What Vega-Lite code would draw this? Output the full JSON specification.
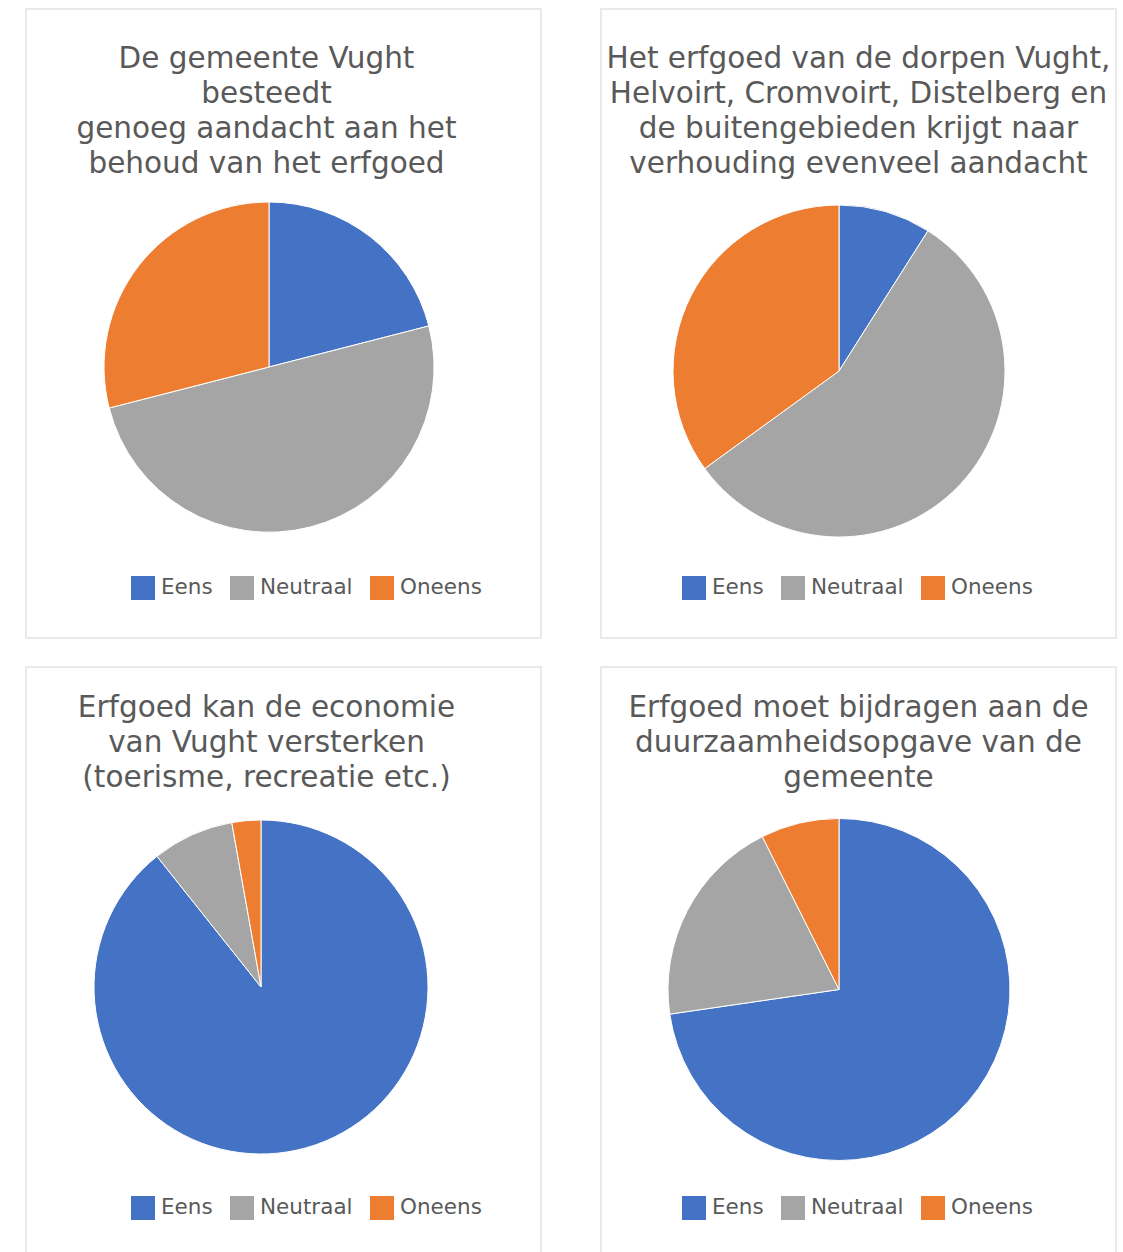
{
  "$schema": "https://vega.github.io/schema/vega-lite/v6.json",
  "padding": {"left": 25, "top": 8, "right": 0, "bottom": 0},
  "background": "white",
  "columns": 2,
  "spacing": {"row": 27, "column": 58},
  "resolve": {"legend": {"color": "independent"}},
  "config": {
    "view": {"stroke": "#eaeaea", "strokeWidth": 2},
    "font": "DejaVu Sans",
    "title": {"fontSize": 29.5, "fontWeight": "normal", "color": "#595959", "lineHeight": 35, "anchor": "middle", "font": "DejaVu Sans"},
    "legend": {"labelFontSize": 21.5, "labelColor": "#595959", "labelFont": "DejaVu Sans", "symbolType": "square", "symbolSize": 576, "symbolStrokeWidth": 0, "columnPadding": 17, "labelOffset": 6, "padding": 0, "orient": "none", "direction": "horizontal", "columns": 3, "title": null}
  },
  "concat": [
    {
      "width": 515, "height": 629,
      "view": {"stroke": "#eaeaea", "strokeWidth": 2},
      "title": {"text": ["De gemeente Vught", "besteedt", "genoeg aandacht aan het", "behoud van het erfgoed"], "offset": -170, "dx": -17},
      "data": {"values": [
        {"antwoord": "Eens", "pct": 21},
        {"antwoord": "Neutraal", "pct": 50},
        {"antwoord": "Oneens", "pct": 29}
      ]},
      "mark": {"type": "arc", "radius": 165, "xOffset": -14.5, "yOffset": 43.5, "stroke": "white", "strokeWidth": 1},
      "encoding": {
        "theta": {"field": "pct", "type": "quantitative", "stack": true},
        "color": {"field": "antwoord", "type": "nominal", "scale": {"domain": ["Eens", "Neutraal", "Oneens"], "range": ["#4472C4", "#A5A5A5", "#ED7D31"]}, "legend": {"legendX": 105, "legendY": 567}}
      }
    },
    {
      "width": 515, "height": 629,
      "view": {"stroke": "#eaeaea", "strokeWidth": 2},
      "title": {"text": ["Het erfgoed van de dorpen Vught,", "Helvoirt, Cromvoirt, Distelberg en", "de buitengebieden krijgt naar", "verhouding evenveel aandacht"], "offset": -170},
      "data": {"values": [
        {"antwoord": "Eens", "pct": 9},
        {"antwoord": "Neutraal", "pct": 56},
        {"antwoord": "Oneens", "pct": 35}
      ]},
      "mark": {"type": "arc", "radius": 166, "xOffset": -19.5, "yOffset": 47.5, "stroke": "white", "strokeWidth": 1},
      "encoding": {
        "theta": {"field": "pct", "type": "quantitative", "stack": true},
        "color": {"field": "antwoord", "type": "nominal", "scale": {"domain": ["Eens", "Neutraal", "Oneens"], "range": ["#4472C4", "#A5A5A5", "#ED7D31"]}, "legend": {"legendX": 81, "legendY": 567}}
      }
    },
    {
      "width": 515, "height": 629,
      "view": {"stroke": "#eaeaea", "strokeWidth": 2},
      "title": {"text": ["Erfgoed kan de economie", "van Vught versterken", "(toerisme, recreatie etc.)"], "offset": -126, "dx": -17},
      "data": {"values": [
        {"antwoord": "Eens", "pct": 89.3},
        {"antwoord": "Neutraal", "pct": 7.9},
        {"antwoord": "Oneens", "pct": 2.8}
      ]},
      "mark": {"type": "arc", "radius": 167, "xOffset": -22.5, "yOffset": 5.5, "stroke": "white", "strokeWidth": 1},
      "encoding": {
        "theta": {"field": "pct", "type": "quantitative", "stack": true},
        "color": {"field": "antwoord", "type": "nominal", "scale": {"domain": ["Eens", "Neutraal", "Oneens"], "range": ["#4472C4", "#A5A5A5", "#ED7D31"]}, "legend": {"legendX": 105, "legendY": 529}}
      }
    },
    {
      "width": 515, "height": 629,
      "view": {"stroke": "#eaeaea", "strokeWidth": 2},
      "title": {"text": ["Erfgoed moet bijdragen aan de", "duurzaamheidsopgave van de", "gemeente"], "offset": -126},
      "data": {"values": [
        {"antwoord": "Eens", "pct": 72.7},
        {"antwoord": "Neutraal", "pct": 19.9},
        {"antwoord": "Oneens", "pct": 7.4}
      ]},
      "mark": {"type": "arc", "radius": 171, "xOffset": -19.5, "yOffset": 8, "stroke": "white", "strokeWidth": 1},
      "encoding": {
        "theta": {"field": "pct", "type": "quantitative", "stack": true},
        "color": {"field": "antwoord", "type": "nominal", "scale": {"domain": ["Eens", "Neutraal", "Oneens"], "range": ["#4472C4", "#A5A5A5", "#ED7D31"]}, "legend": {"legendX": 81, "legendY": 529}}
      }
    }
  ]
}
